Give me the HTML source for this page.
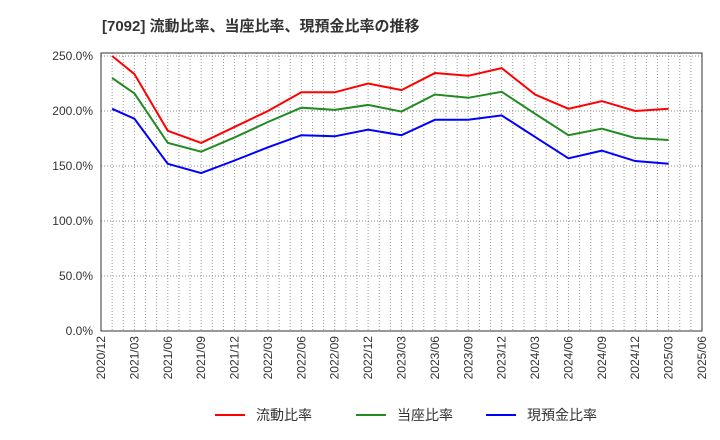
<!DOCTYPE html>
<html><head><meta charset="utf-8"><style>
body{margin:0;background:#fff;}
svg{display:block;font-family:"Liberation Sans","Noto Sans CJK JP",sans-serif;}
</style></head><body>
<svg id="chart" width="720" height="440">
<text x="102" y="31" font-size="15" font-weight="bold" fill="#333">[7092]  流動比率、当座比率、現預金比率の推移</text>
<g id="grid"></g><g id="axes"></g><g id="series"></g><g id="legend"></g>
</svg>
<script>
const months=[1,3,6,9,12,15,18,21,24,27,30,33,36,39,42,45,48,51];
const currentRatio=[250,233.6,182,171,185.5,200,217,217,225,219,234.5,232,239,215,202,209,200,202];
const quickRatio=[230,216,171,163,176,190,203,201,205.5,199.5,215,212,217.5,197.5,178,184,175.5,173.6];
const cashRatio=[202,193,152,143.6,155,167,178,177,183,178,192,192,196,176.4,157,164,154.5,152];
const yTicks=[0,50,100,150,200,250];
const xTickLabels=["2020/12","2021/03","2021/06","2021/09","2021/12","2022/03","2022/06","2022/09","2022/12","2023/03","2023/06","2023/09","2023/12","2024/03","2024/06","2024/09","2024/12","2025/03","2025/06"];
const L=101,R=702,T=53,B=331,NS="http://www.w3.org/2000/svg";
const xs=m=>L+m*(R-L)/54, ys=v=>B-v*1.1;
function mk(tag,attrs,parent){const e=document.createElementNS(NS,tag);for(const k in attrs)e.setAttribute(k,attrs[k]);document.getElementById(parent).appendChild(e);return e;}
for(let m=1;m<54;m++){const g=mk('line',{x1:xs(m),x2:xs(m),y1:T,y2:B,stroke:'#999','stroke-dasharray':'1,2','stroke-width':1},'grid');

}
yTicks.forEach(v=>{const g=mk('line',{x1:L,x2:R,y1:ys(v),y2:ys(v),stroke:'#888','stroke-dasharray':'1,2'},'grid');


const t=mk('text',{x:93,y:ys(v)+4,'text-anchor':'end','font-size':12,fill:'#333'},'axes');t.textContent=v.toFixed(1)+'%';

});
xTickLabels.forEach((s,i)=>{const x=xs(i*3);const t=mk('text',{transform:`translate(${x+4},${B+5}) rotate(-90)`,'text-anchor':'end','font-size':12,fill:'#333'},'axes');t.textContent=s;

});
const fr=mk('rect',{x:L,y:T,width:R-L,height:B-T,fill:'none',stroke:'#333','stroke-width':1},'axes');


const series=[[currentRatio,'#f00','流動比率','current-ratio-line'],[quickRatio,'#228b22','当座比率','quick-ratio-line'],[cashRatio,'#00f','現預金比率','cash-ratio-line']];
const lx=[215,356,486];
series.forEach(([d,c,n,name],i)=>{const p=mk('polyline',{points:d.map((v,j)=>xs(months[j])+','+ys(v)).join(' '),fill:'none',stroke:c,'stroke-width':2},'series');


const l=mk('line',{x1:lx[i],x2:lx[i]+30,y1:415,y2:415,stroke:c,'stroke-width':2},'legend');


const t=mk('text',{x:lx[i]+41,y:420,'font-size':14,fill:'#333'},'legend');t.textContent=n;

});
</script>
</body></html>
